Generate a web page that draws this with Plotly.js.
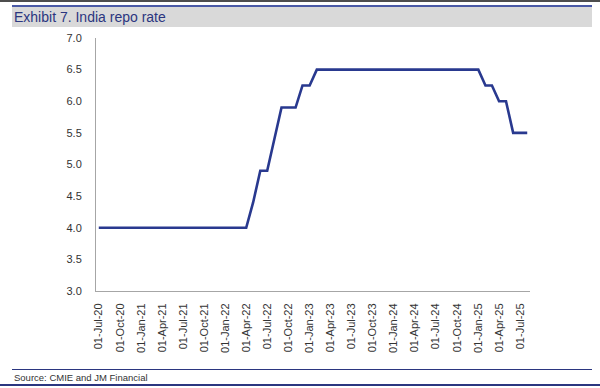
<!DOCTYPE html>
<html>
<head>
<meta charset="utf-8">
<script src="https://cdn.plot.ly/plotly-3.0.1.min.js"></script>
<style>html,body{margin:0;padding:0;background:#fff;}#chart{width:600px;height:388px;}</style>
</head>
<body>
<div id="chart"></div>
<script>
const titleText = "Exhibit 7. India repo rate";
const sourceText = "Source: CMIE and JM Financial";
const seriesName = "Repo rate";

const months = [
  "2020-07-01","2020-08-01","2020-09-01","2020-10-01","2020-11-01","2020-12-01",
  "2021-01-01","2021-02-01","2021-03-01","2021-04-01","2021-05-01","2021-06-01",
  "2021-07-01","2021-08-01","2021-09-01","2021-10-01","2021-11-01","2021-12-01",
  "2022-01-01","2022-02-01","2022-03-01","2022-04-01","2022-05-01","2022-06-01",
  "2022-07-01","2022-08-01","2022-09-01","2022-10-01","2022-11-01","2022-12-01",
  "2023-01-01","2023-02-01","2023-03-01","2023-04-01","2023-05-01","2023-06-01",
  "2023-07-01","2023-08-01","2023-09-01","2023-10-01","2023-11-01","2023-12-01",
  "2024-01-01","2024-02-01","2024-03-01","2024-04-01","2024-05-01","2024-06-01",
  "2024-07-01","2024-08-01","2024-09-01","2024-10-01","2024-11-01","2024-12-01",
  "2025-01-01","2025-02-01","2025-03-01","2025-04-01","2025-05-01","2025-06-01",
  "2025-07-01","2025-08-01"
];

const repoRate = [
  4.0, 4.0, 4.0, 4.0, 4.0, 4.0,
  4.0, 4.0, 4.0, 4.0, 4.0, 4.0,
  4.0, 4.0, 4.0, 4.0, 4.0, 4.0,
  4.0, 4.0, 4.0, 4.0, 4.4, 4.9,
  4.9, 5.4, 5.9, 5.9, 5.9, 6.25,
  6.25, 6.5, 6.5, 6.5, 6.5, 6.5,
  6.5, 6.5, 6.5, 6.5, 6.5, 6.5,
  6.5, 6.5, 6.5, 6.5, 6.5, 6.5,
  6.5, 6.5, 6.5, 6.5, 6.5, 6.5,
  6.5, 6.25, 6.25, 6.0, 6.0, 5.5,
  5.5, 5.5
];

const yTicks = [3.0, 3.5, 4.0, 4.5, 5.0, 5.5, 6.0, 6.5, 7.0];

// layout geometry (pixels)
const W = 600, Hgt = 388;
const L = 96, R = 530, T = 38, B = 291;
const pw = R - L, ph = B - T;
const px = p => (p - L) / pw;
const py = p => (B - p) / ph;

const navy = "#29398f";

const trace = {
  x: months,
  y: repoRate,
  type: "scatter",
  mode: "lines",
  name: seriesName,
  line: {color: navy, width: 2.6},
  hoverinfo: "x+y"
};

const rect = (x0, y0, x1, y1, color) => ({
  type: "rect", xref: "paper", yref: "paper",
  x0: px(x0), x1: px(x1), y0: py(y0), y1: py(y1),
  fillcolor: color, line: {width: 0}, layer: "below"
});

const layout = {
  width: W, height: Hgt,
  margin: {l: L, r: W - R, t: T, b: Hgt - B, pad: 0},
  paper_bgcolor: "#ffffff",
  plot_bgcolor: "#ffffff",
  showlegend: false,
  font: {family: "Liberation Sans, Arial, sans-serif", size: 11, color: "#333333"},
  xaxis: {
    type: "date",
    range: ["2020-06-19", "2025-08-13"],
    tick0: "2020-07-01",
    dtick: "M3",
    tickformat: "%d-%b-%y",
    tickangle: -90,
    ticks: "outside",
    ticklen: 7,
    tickcolor: "rgba(0,0,0,0)",
    showgrid: false,
    zeroline: false,
    showline: true,
    linecolor: "#a6a6a6",
    linewidth: 1,
    tickfont: {size: 11, color: "#333333"}
  },
  yaxis: {
    range: [3, 7],
    tickvals: yTicks,
    ticktext: yTicks.map(v => v.toFixed(1)),
    ticks: "outside",
    ticklen: 11,
    tickcolor: "rgba(0,0,0,0)",
    showgrid: false,
    zeroline: false,
    showline: true,
    linecolor: "#a6a6a6",
    linewidth: 1,
    tickfont: {size: 11, color: "#333333"}
  },
  shapes: [
    rect(0, 0, 600, 2, "#4d4d4d"),
    rect(12, 5, 592, 7, "#4a59a6"),
    rect(12, 7, 592, 27, "#d9d9d9"),
    rect(12, 369, 592, 370, "#2b3680"),
    rect(0, 384, 600, 386, "#2b3680")
  ],
  annotations: [
    {
      text: titleText, xref: "paper", yref: "paper",
      x: px(12), y: py(17), xanchor: "left", yanchor: "middle",
      showarrow: false,
      font: {family: "Liberation Sans Narrow, Liberation Sans, Arial, sans-serif", size: 14, color: "#2b3680"}
    },
    {
      text: sourceText, xref: "paper", yref: "paper",
      x: px(12), y: py(377.5), xanchor: "left", yanchor: "middle",
      showarrow: false,
      font: {family: "Liberation Sans Narrow, Liberation Sans, Arial, sans-serif", size: 9.5, color: "#333333"}
    }
  ]
};

Plotly.newPlot("chart", [trace], layout, {displayModeBar: false, staticPlot: true});
</script>
</body>
</html>
